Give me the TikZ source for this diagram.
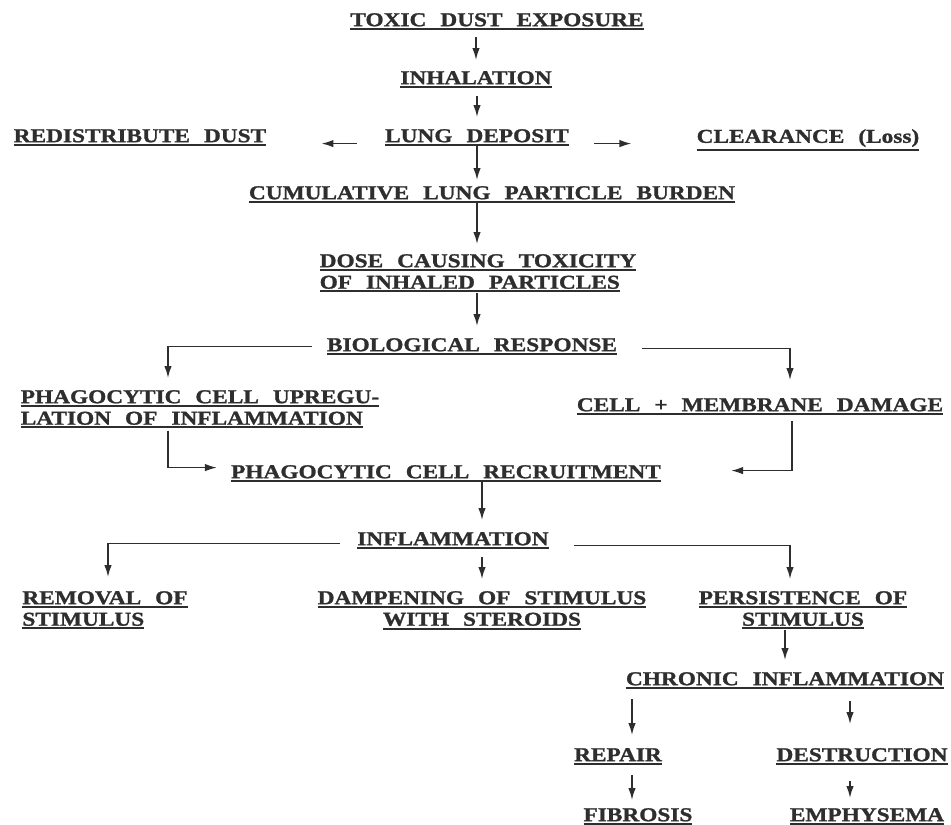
\documentclass[tikz,border=0pt]{standalone}
\usepackage{fontspec}
\newfontfamily\flowfont[FakeStretch=1.19, WordSpace=2.4,
  BoldFeatures={FakeBold=1.2}]{Liberation Serif}
\usepackage{tikz}
\usetikzlibrary{arrows.meta, calc}
\usepackage{xcolor}
\definecolor{ink}{HTML}{2E2E2E}
\newcommand{\ulbox}[1]{\vtop{\hbox{#1}\kern1.6pt\hrule height2pt}}

\begin{document}
\begin{tikzpicture}[x=1pt, y=-1pt,
  lbl/.style={anchor=north, inner sep=0pt, text=ink,
              font=\flowfont\bfseries\fontsize{19.6}{21.5}\selectfont},
  arr/.style={draw=ink, line width=1.6pt, -{Latex[length=12pt, width=7.5pt]}},
]
  \fill[white] (0,0) rectangle (951,825);
  \useasboundingbox (0,0) rectangle (951,825);

  \node[lbl] (tox) at (497,13) {\ulbox{TOXIC DUST EXPOSURE}};
  \node[lbl] (inh) at (476,71) {\ulbox{INHALATION}};
  \node[lbl] (lung) at (477,129) {\ulbox{LUNG DEPOSIT}};
  \node[lbl] (redist) at (140,129) {\ulbox{REDISTRIBUTE DUST}};
  \node[lbl] (clear) at (808,129) {\ulbox{CLEARANCE (Loss)}};
  \node[lbl] (cum) at (492,186) {\ulbox{CUMULATIVE LUNG PARTICLE BURDEN}};
  \node[lbl, align=left] (dose) at (478,254)
    {\ulbox{DOSE CAUSING TOXICITY}\\\ulbox{OF INHALED PARTICLES}};
  \node[lbl] (bio) at (472,338) {\ulbox{BIOLOGICAL RESPONSE}};
  \node[lbl, align=left] (up) at (200,390)
    {\ulbox{PHAGOCYTIC CELL UPREGU-}\\\ulbox{LATION OF INFLAMMATION}};
  \node[lbl] (cell) at (760,398) {\ulbox{CELL + MEMBRANE DAMAGE}};
  \node[lbl] (recr) at (446,465) {\ulbox{PHAGOCYTIC CELL RECRUITMENT}};
  \node[lbl] (infl) at (453,532) {\ulbox{INFLAMMATION}};
  \node[lbl, align=left] (remov) at (105,591)
    {\ulbox{REMOVAL OF}\\\ulbox{STIMULUS}};
  \node[lbl, align=center] (damp) at (482,591)
    {\ulbox{DAMPENING OF STIMULUS}\\\ulbox{WITH STEROIDS}};
  \node[lbl, align=center] (pers) at (803,591)
    {\ulbox{PERSISTENCE OF}\\\ulbox{STIMULUS}};
  \node[lbl] (chron) at (785,672) {\ulbox{CHRONIC INFLAMMATION}};
  \node[lbl] (repair) at (618,748) {\ulbox{REPAIR}};
  \node[lbl] (destr) at (862,748) {\ulbox{DESTRUCTION}};
  \node[lbl] (fib) at (638,808) {\ulbox{FIBROSIS}};
  \node[lbl] (emph) at (867,808) {\ulbox{EMPHYSEMA}};

  \draw[arr] ($(tox.south -| inh.north)+(0,7)$) -- ($(inh.north)+(0,-11)$);
  \draw[arr] ($(inh.south -| lung.north)+(0,8)$) -- ($(lung.north)+(0,-12)$);
  \draw[arr] ($(lung.west)+(-28,6)$) -- ($(redist.east |- lung.west)+(55,6)$);
  \draw[arr] ($(lung.east)+(25,6)$) -- ($(clear.west |- lung.east)+(-65,6)$);
  \draw[arr] (lung.south) -- ($(cum.north -| lung.south)+(0,-6)$);
  \draw[arr] (cum.south -| lung.south) -- ($(dose.north -| lung.south)+(0,-10)$);
  \draw[arr] (dose.south -| lung.south) -- ($(bio.north -| lung.south)+(0,-12)$);
  \draw[arr] ($(bio.west)+(-15,0)$) -| ($(up.north)+(-32,-12)$);
  \draw[arr] ($(bio.east)+(25,2)$) -| ($(cell.north)+(30,-18)$);
  \draw[arr] ($(up.south)+(-32,2)$) |- ($(recr.west)+(-14,-6)$);
  \draw[arr] ($(cell.south)+(32,6)$) |- ($(recr.east)+(70,-3)$);
  \draw[arr] (recr.south -| damp.north) -- ($(infl.north -| damp.north)+(0,-12)$);
  \draw[arr] ($(infl.west)+(-17,3)$) -| ($(remov.north)+(3,-14)$);
  \draw[arr] ($(infl.south -| damp.north)+(0,8)$) -- ($(damp.north)+(0,-12)$);
  \draw[arr] ($(infl.east)+(25,5)$) -| ($(pers.north)+(-13,-12)$);
  \draw[arr] (pers.south -| chron.north) -- ($(chron.north)+(0,-12)$);
  \draw[arr] ($(chron.south -| repair.north)+(14,10)$) -- ($(repair.north)+(14,-13)$);
  \draw[arr] ($(chron.south -| destr.north)+(-12,12)$) -- ($(destr.north)+(-12,-24)$);
  \draw[arr] ($(repair.south)+(14,10)$) -- ($(fib.north -| repair.south)+(14,-8)$);
  \draw[arr] ($(destr.south)+(-12,16)$) -- ($(emph.north -| destr.south)+(-12,-10)$);
\end{tikzpicture}
\end{document}
